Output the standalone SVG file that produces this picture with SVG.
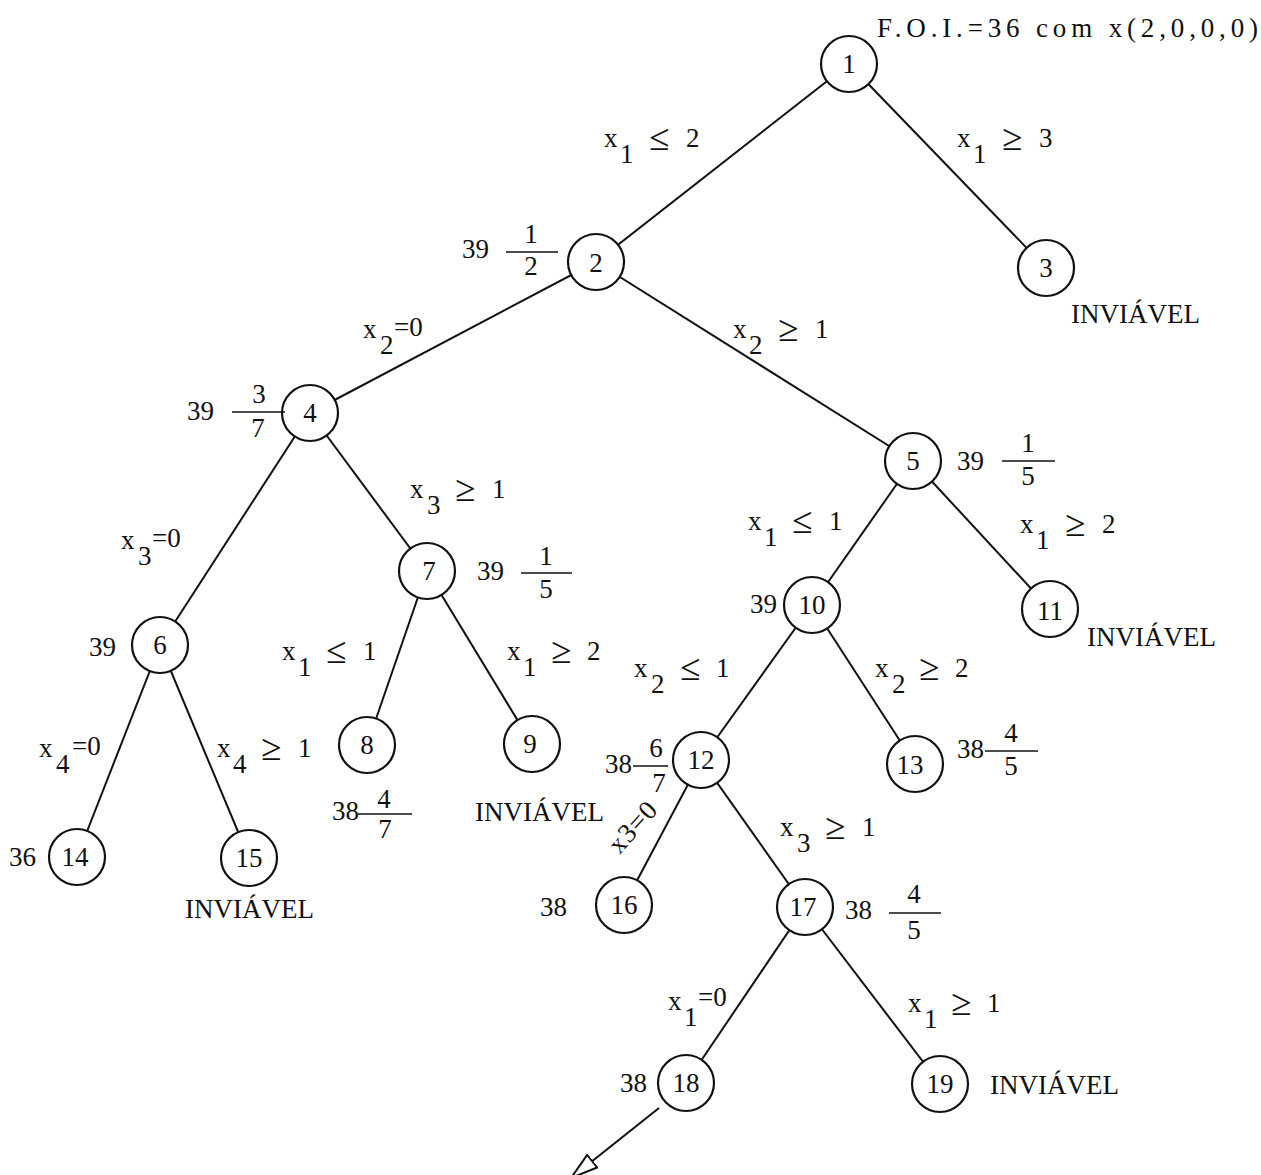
<svg xmlns="http://www.w3.org/2000/svg" width="1261" height="1175" viewBox="0 0 1261 1175">
  <style>
    text { font-family: "Liberation Serif", "DejaVu Serif", serif; font-size: 27px; fill: #111; }
    .num { text-anchor: middle; }
    .op { font-size: 37px; }
    .node circle { fill: #fff; stroke: #111; stroke-width: 2.2; }
    .edge { stroke: #111; stroke-width: 2; fill: none; }
    .bar { stroke: #111; stroke-width: 1.6; }
  </style>
  <defs>
    <marker id="openHead" markerUnits="userSpaceOnUse" markerWidth="32" markerHeight="22" refX="28" refY="10" orient="auto">
      <path d="M1,2 L28,10 L1,18 Z" fill="#fff" stroke="#111" stroke-width="2"/>
    </marker>
  </defs>

  <!-- connectors (drawn centre to centre, hidden under the white node discs) -->
  <g id="connectors">
    <line class="edge" x1="849" y1="64" x2="596" y2="262"/>
    <line class="edge" x1="849" y1="64" x2="1046" y2="268"/>
    <line class="edge" x1="596" y1="262" x2="310" y2="413"/>
    <line class="edge" x1="596" y1="262" x2="913" y2="461"/>
    <line class="edge" x1="310" y1="413" x2="160" y2="645"/>
    <line class="edge" x1="310" y1="413" x2="427" y2="571"/>
    <line class="edge" x1="913" y1="461" x2="812" y2="605"/>
    <line class="edge" x1="913" y1="461" x2="1050" y2="609"/>
    <line class="edge" x1="160" y1="645" x2="77" y2="857"/>
    <line class="edge" x1="160" y1="645" x2="249" y2="858"/>
    <line class="edge" x1="427" y1="571" x2="367" y2="745"/>
    <line class="edge" x1="427" y1="571" x2="532" y2="744"/>
    <line class="edge" x1="812" y1="605" x2="701" y2="760"/>
    <line class="edge" x1="812" y1="605" x2="915" y2="764"/>
    <line class="edge" x1="701" y1="760" x2="624" y2="905"/>
    <line class="edge" x1="701" y1="760" x2="805" y2="907"/>
    <line class="edge" x1="805" y1="907" x2="686" y2="1083"/>
    <line class="edge" x1="805" y1="907" x2="940" y2="1084"/>
    <line class="edge" x1="659" y1="1108" x2="571" y2="1178" marker-end="url(#openHead)"/>
  </g>

  <!-- nodes -->
  <g id="node1" class="node"><circle cx="849" cy="64" r="28"/><text class="num" x="849" y="73">1</text></g>
  <g id="node2" class="node"><circle cx="596" cy="262" r="28"/><text class="num" x="596" y="272">2</text></g>
  <g id="node3" class="node"><circle cx="1046" cy="268" r="28"/><text class="num" x="1046" y="277">3</text></g>
  <g id="node4" class="node"><circle cx="310" cy="413" r="28"/><text class="num" x="310" y="422">4</text></g>
  <g id="node5" class="node"><circle cx="913" cy="461" r="28"/><text class="num" x="913" y="470">5</text></g>
  <g id="node6" class="node"><circle cx="160" cy="645" r="28"/><text class="num" x="160" y="654">6</text></g>
  <g id="node7" class="node"><circle cx="427" cy="571" r="28"/><text class="num" x="429" y="580">7</text></g>
  <g id="node8" class="node"><circle cx="367" cy="745" r="28"/><text class="num" x="367" y="754">8</text></g>
  <g id="node9" class="node"><circle cx="532" cy="744" r="28"/><text class="num" x="530" y="753">9</text></g>
  <g id="node10" class="node"><circle cx="812" cy="605" r="28"/><text class="num" x="812" y="614">10</text></g>
  <g id="node11" class="node"><circle cx="1050" cy="609" r="28"/><text class="num" x="1050" y="620">11</text></g>
  <g id="node12" class="node"><circle cx="701" cy="760" r="28"/><text class="num" x="701" y="769">12</text></g>
  <g id="node13" class="node"><circle cx="915" cy="764" r="28"/><text class="num" x="910" y="774">13</text></g>
  <g id="node14" class="node"><circle cx="77" cy="857" r="28"/><text class="num" x="75" y="866">14</text></g>
  <g id="node15" class="node"><circle cx="249" cy="858" r="28"/><text class="num" x="249" y="867">15</text></g>
  <g id="node16" class="node"><circle cx="624" cy="905" r="28"/><text class="num" x="624" y="914">16</text></g>
  <g id="node17" class="node"><circle cx="805" cy="907" r="28"/><text class="num" x="803" y="916">17</text></g>
  <g id="node18" class="node"><circle cx="686" cy="1083" r="28"/><text class="num" x="686" y="1092">18</text></g>
  <g id="node19" class="node"><circle cx="940" cy="1084" r="28"/><text class="num" x="940" y="1093">19</text></g>

  <!-- header -->
  <text x="877" y="37" textLength="381" lengthAdjust="spacing">F.O.I.=36 com x(2,0,0,0)</text>

  <!-- branching constraints -->
  <g id="branch-labels">
    <text x="604" y="147">x<tspan x="620" y="163">1</tspan><tspan class="op" x="649" y="150">≤</tspan><tspan x="686" y="147">2</tspan></text>
    <text x="957" y="147">x<tspan x="973" y="163">1</tspan><tspan class="op" x="1002" y="150">≥</tspan><tspan x="1039" y="147">3</tspan></text>
    <text x="363" y="338">x<tspan x="380" y="354">2</tspan><tspan x="394" y="336">=0</tspan></text>
    <text x="733" y="338">x<tspan x="749" y="354">2</tspan><tspan class="op" x="778" y="341">≥</tspan><tspan x="815" y="338">1</tspan></text>
    <text x="410" y="498">x<tspan x="427" y="514">3</tspan><tspan class="op" x="455" y="501">≥</tspan><tspan x="492" y="498">1</tspan></text>
    <text x="121" y="549">x<tspan x="138" y="565">3</tspan><tspan x="152" y="547">=0</tspan></text>
    <text x="282" y="660">x<tspan x="298" y="676">1</tspan><tspan class="op" x="326" y="663">≤</tspan><tspan x="363" y="660">1</tspan></text>
    <text x="507" y="660">x<tspan x="523" y="676">1</tspan><tspan class="op" x="551" y="663">≥</tspan><tspan x="587" y="660">2</tspan></text>
    <text x="748" y="530">x<tspan x="764" y="546">1</tspan><tspan class="op" x="792" y="533">≤</tspan><tspan x="829" y="530">1</tspan></text>
    <text x="1020" y="533">x<tspan x="1036" y="549">1</tspan><tspan class="op" x="1065" y="536">≥</tspan><tspan x="1102" y="533">2</tspan></text>
    <text x="39" y="757">x<tspan x="56" y="773">4</tspan><tspan x="72" y="755">=0</tspan></text>
    <text x="217" y="757">x<tspan x="233" y="773">4</tspan><tspan class="op" x="261" y="760">≥</tspan><tspan x="298" y="757">1</tspan></text>
    <text x="634" y="677">x<tspan x="651" y="693">2</tspan><tspan class="op" x="680" y="680">≤</tspan><tspan x="716" y="677">1</tspan></text>
    <text x="875" y="677">x<tspan x="892" y="693">2</tspan><tspan class="op" x="919" y="680">≥</tspan><tspan x="955" y="677">2</tspan></text>
    <text x="632" y="836" text-anchor="middle" letter-spacing="1" transform="rotate(-48 632 826)">x3=0</text>
    <text x="780" y="836">x<tspan x="797" y="852">3</tspan><tspan class="op" x="825" y="839">≥</tspan><tspan x="862" y="836">1</tspan></text>
    <text x="668" y="1010">x<tspan x="684" y="1026">1</tspan><tspan x="698" y="1006">=0</tspan></text>
    <text x="908" y="1012">x<tspan x="924" y="1028">1</tspan><tspan class="op" x="951" y="1015">≥</tspan><tspan x="987" y="1012">1</tspan></text>
  </g>

  <!-- objective values at the nodes -->
  <g id="node-values">
    <text x="462" y="258">39</text>
    <text class="num" x="531" y="243">1</text><line class="bar" x1="506" y1="252" x2="558" y2="252"/><text class="num" x="531" y="275">2</text>

    <text x="187" y="420">39</text>
    <text class="num" x="259" y="403">3</text><line class="bar" x1="232" y1="412" x2="285" y2="412"/><text class="num" x="258" y="437">7</text>

    <text x="957" y="470">39</text>
    <text class="num" x="1028" y="452">1</text><line class="bar" x1="1002" y1="461" x2="1055" y2="461"/><text class="num" x="1028" y="485">5</text>

    <text x="89" y="656">39</text>

    <text x="477" y="580">39</text>
    <text class="num" x="546" y="565">1</text><line class="bar" x1="521" y1="573" x2="572" y2="573"/><text class="num" x="546" y="598">5</text>

    <text x="332" y="820">38</text>
    <text class="num" x="384" y="808">4</text><line class="bar" x1="358" y1="814" x2="412" y2="814"/><text class="num" x="385" y="838">7</text>

    <text x="750" y="613">39</text>

    <text x="605" y="773">38</text>
    <text class="num" x="656" y="757">6</text><line class="bar" x1="633" y1="766" x2="668" y2="766"/><text class="num" x="659" y="792">7</text>

    <text x="957" y="758">38</text>
    <text class="num" x="1011" y="742">4</text><line class="bar" x1="985" y1="751" x2="1038" y2="751"/><text class="num" x="1011" y="775">5</text>

    <text x="9" y="866">36</text>

    <text x="540" y="916">38</text>

    <text x="845" y="919">38</text>
    <text class="num" x="914" y="903">4</text><line class="bar" x1="889" y1="913" x2="941" y2="913"/><text class="num" x="914" y="939">5</text>

    <text x="620" y="1092">38</text>
  </g>

  <!-- infeasible markers -->
  <g id="infeasible">
    <text x="1071" y="323">INVIÁVEL</text>
    <text x="185" y="918">INVIÁVEL</text>
    <text x="475" y="821">INVIÁVEL</text>
    <text x="1087" y="646">INVIÁVEL</text>
    <text x="990" y="1094">INVIÁVEL</text>
  </g>
</svg>
